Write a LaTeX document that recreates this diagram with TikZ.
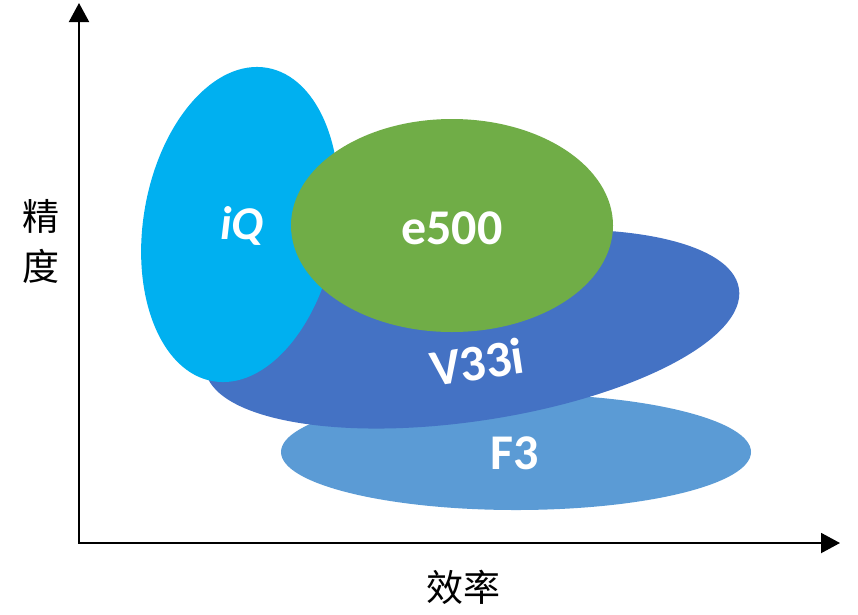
\documentclass[tikz,border=0pt]{standalone}
\usepackage{fontspec}
\setmainfont{Carlito}
\newfontfamily\cjkfont{Noto Sans CJK SC}
\usepackage{tikz}
\usetikzlibrary{positioning,arrows.meta,shapes.geometric}
\definecolor{iqblue}{HTML}{00B0F0}
\definecolor{egreen}{HTML}{70AD47}
\definecolor{vblue}{HTML}{4472C4}
\definecolor{fblue}{HTML}{5B9BD5}

\begin{document}
\begin{tikzpicture}[
          x=1pt, y=-1pt,
          blob/.style={ellipse, inner sep=0pt, draw=none},
          tag/.style={text=white, inner sep=0pt, font=\fontsize{50}{50}\selectfont\bfseries},
          axis/.style={{Triangle[length=19pt, width=20pt]}-{Triangle[length=19pt, width=20pt]}, line width=2pt},
          axlabel/.style={align=center, font=\cjkfont\fontsize{37}{50}\selectfont}
      ]
        \useasboundingbox (0,0) rectangle (858,614);
        \node[blob, fill=fblue, minimum width=470pt, minimum height=116pt] (f3) at (516,452) {};
        \node[blob, fill=vblue, minimum width=540pt, minimum height=184pt, rotate=8.6] (v33i) at (472,329) {};
        \node[blob, fill=iqblue, minimum width=193pt, minimum height=318pt, rotate=-9.8] (iq) at (240,224.5) {};
        \node[blob, fill=egreen, minimum width=322pt, minimum height=213pt] (e500) at (452,225.5) {};
        \node[tag] (f3tag) at (515,453) {F3};
        \node[tag, font=\fontsize{51}{51}\selectfont\bfseries, rotate=8.6] (v33itag) at (477,362) {V33i};
        \node[tag, font=\fontsize{47}{47}\selectfont\bfseries\itshape] (iqtag) at (242,226) {iQ};
        \node[tag] (e500tag) at (452,228) {e500};
        \coordinate (origin) at (79,543);
        \coordinate (ytip) at (79,3);
        \coordinate (xtip) at (840,543);
        \draw[axis] (ytip) -- (origin) -- (xtip);
        \node[axlabel] (ylab) at (41,241) {精\\度};
        \node[axlabel] (xlab) at (463,587) {效率};
      \end{tikzpicture}
\end{document}
